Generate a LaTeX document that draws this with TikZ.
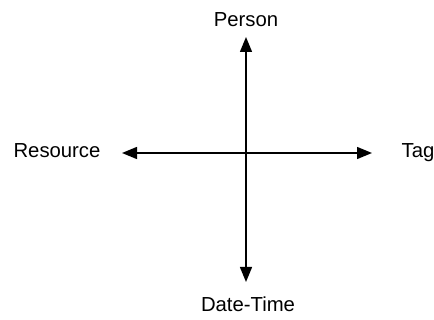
\documentclass[tikz,border=0pt]{standalone}
\usepackage{fontspec}
\setmainfont{Liberation Sans}
\usetikzlibrary{arrows.meta}

\begin{document}
\begin{tikzpicture}[x=1pt, y=-1pt,
    axis/.style={line width=1.4pt, {Triangle[length=15pt,width=12pt]}-{Triangle[length=15pt,width=12pt]}},
    lbl/.style={font=\fontsize{20.3}{24}\selectfont, inner sep=0pt, anchor=base}]
  \useasboundingbox (0,0) rectangle (434,320);

  %% labels
  \node[lbl] (person)   at (246,27)  {Person};
  \node[lbl] (resource) at (57,158)  {Resource};
  \node[lbl] (tag)      at (418,158) {Tag};
  \node[lbl] (datetime) at (248,312) {Date-Time};

  %% arrow ends
  \coordinate (topEnd)    at (246,37);
  \coordinate (bottomEnd) at (246,282);
  \coordinate (leftEnd)   at (122,153);
  \coordinate (rightEnd)  at (372,153);

  %% axes
  \draw[axis] (topEnd) -- (bottomEnd);
  \draw[axis] (leftEnd) -- (rightEnd);
\end{tikzpicture}
\end{document}
